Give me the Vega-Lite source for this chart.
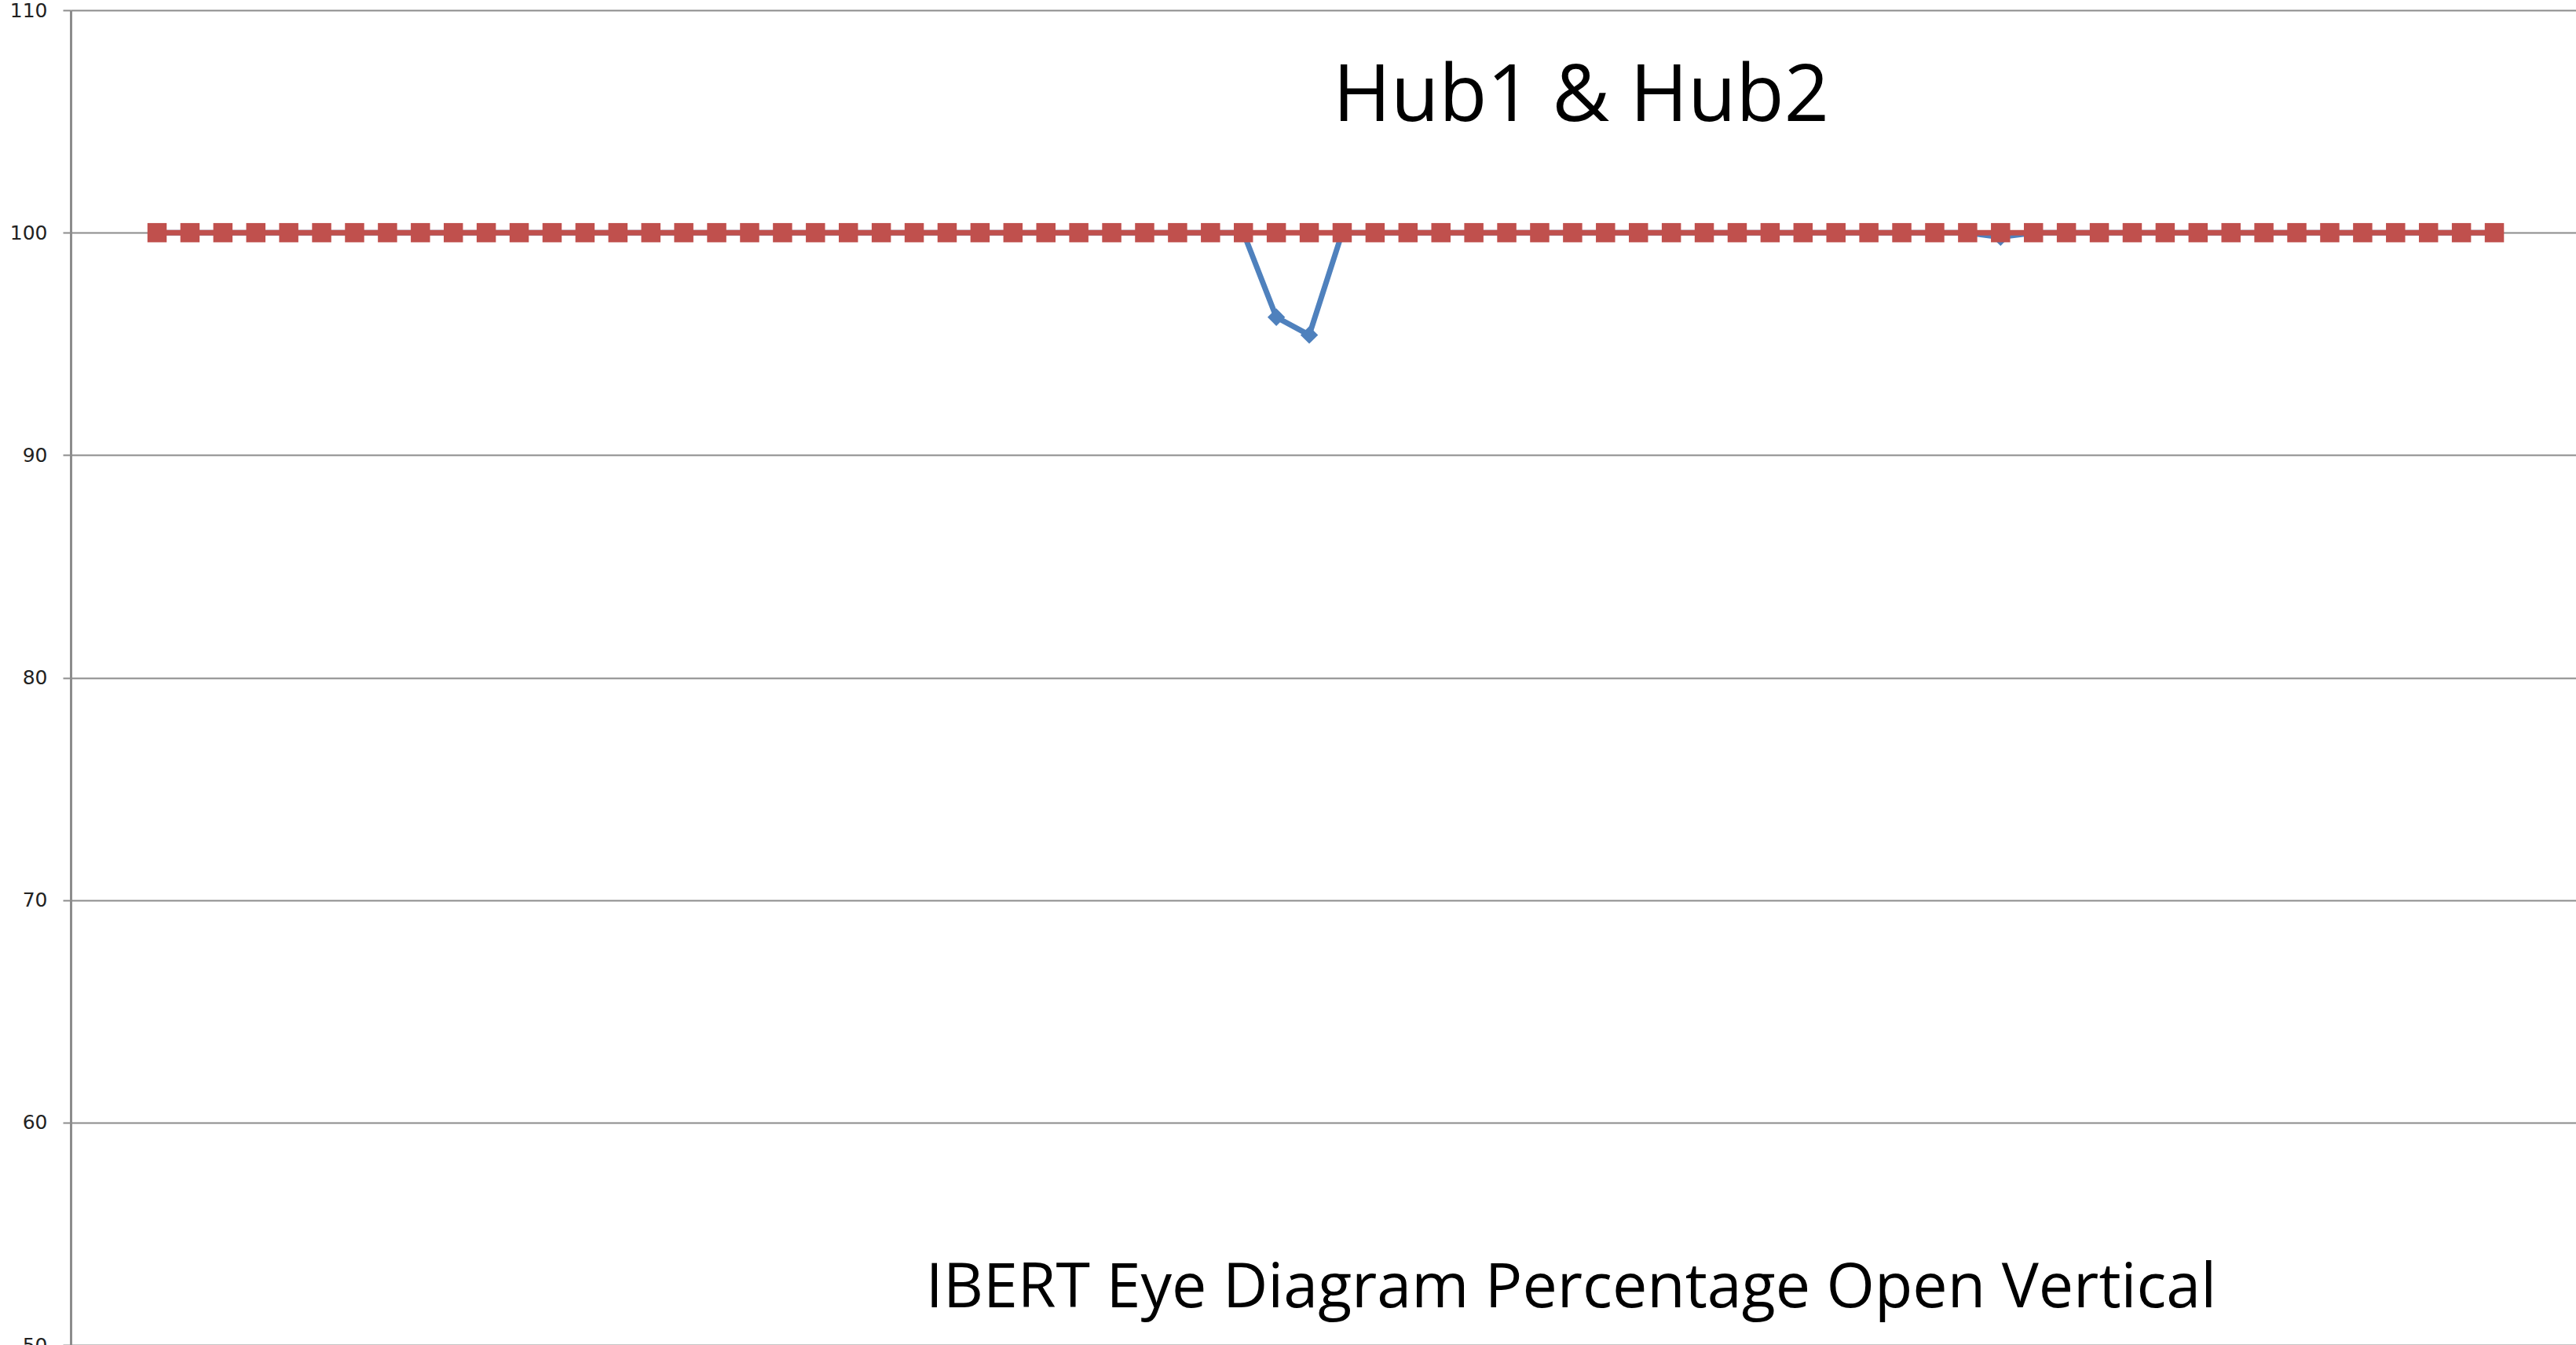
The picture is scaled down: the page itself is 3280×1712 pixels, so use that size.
{
  "$schema": "https://vega.github.io/schema/vega-lite/v6.json",
  "autosize": {"type": "none"},
  "padding": {"left": 90, "top": 13, "right": 0, "bottom": 0},
  "width": 3190,
  "height": 1699,
  "background": "white",
  "title": {"text": "Hub1 & Hub2", "anchor": "middle", "frame": "group", "offset": 0, "dx": 328, "dy": 253, "baseline": "alphabetic", "font": "Open Sans", "fontSize": 100, "fontWeight": "normal", "color": "#000000"},
  "config": {"view": {"stroke": null}},
  "data": {"values": [
    {"point":0,"series":"Hub1","value":100},{"point":1,"series":"Hub1","value":100},{"point":2,"series":"Hub1","value":100},{"point":3,"series":"Hub1","value":100},{"point":4,"series":"Hub1","value":100},{"point":5,"series":"Hub1","value":100},{"point":6,"series":"Hub1","value":100},{"point":7,"series":"Hub1","value":100},{"point":8,"series":"Hub1","value":100},{"point":9,"series":"Hub1","value":100},
    {"point":10,"series":"Hub1","value":100},{"point":11,"series":"Hub1","value":100},{"point":12,"series":"Hub1","value":100},{"point":13,"series":"Hub1","value":100},{"point":14,"series":"Hub1","value":100},{"point":15,"series":"Hub1","value":100},{"point":16,"series":"Hub1","value":100},{"point":17,"series":"Hub1","value":100},{"point":18,"series":"Hub1","value":100},{"point":19,"series":"Hub1","value":100},
    {"point":20,"series":"Hub1","value":100},{"point":21,"series":"Hub1","value":100},{"point":22,"series":"Hub1","value":100},{"point":23,"series":"Hub1","value":100},{"point":24,"series":"Hub1","value":100},{"point":25,"series":"Hub1","value":100},{"point":26,"series":"Hub1","value":100},{"point":27,"series":"Hub1","value":100},{"point":28,"series":"Hub1","value":100},{"point":29,"series":"Hub1","value":100},
    {"point":30,"series":"Hub1","value":100},{"point":31,"series":"Hub1","value":100},{"point":32,"series":"Hub1","value":100},{"point":33,"series":"Hub1","value":100},{"point":34,"series":"Hub1","value":96.2},{"point":35,"series":"Hub1","value":95.4},{"point":36,"series":"Hub1","value":100},{"point":37,"series":"Hub1","value":100},{"point":38,"series":"Hub1","value":100},{"point":39,"series":"Hub1","value":100},
    {"point":40,"series":"Hub1","value":100},{"point":41,"series":"Hub1","value":100},{"point":42,"series":"Hub1","value":100},{"point":43,"series":"Hub1","value":100},{"point":44,"series":"Hub1","value":100},{"point":45,"series":"Hub1","value":100},{"point":46,"series":"Hub1","value":100},{"point":47,"series":"Hub1","value":100},{"point":48,"series":"Hub1","value":100},{"point":49,"series":"Hub1","value":100},
    {"point":50,"series":"Hub1","value":100},{"point":51,"series":"Hub1","value":100},{"point":52,"series":"Hub1","value":100},{"point":53,"series":"Hub1","value":100},{"point":54,"series":"Hub1","value":100},{"point":55,"series":"Hub1","value":100},{"point":56,"series":"Hub1","value":99.8},{"point":57,"series":"Hub1","value":100},{"point":58,"series":"Hub1","value":100},{"point":59,"series":"Hub1","value":100},
    {"point":60,"series":"Hub1","value":100},{"point":61,"series":"Hub1","value":100},{"point":62,"series":"Hub1","value":100},{"point":63,"series":"Hub1","value":100},{"point":64,"series":"Hub1","value":100},{"point":65,"series":"Hub1","value":100},{"point":66,"series":"Hub1","value":100},{"point":67,"series":"Hub1","value":100},{"point":68,"series":"Hub1","value":100},{"point":69,"series":"Hub1","value":100},
    {"point":70,"series":"Hub1","value":100},{"point":71,"series":"Hub1","value":100},
    {"point":0,"series":"Hub2","value":100},{"point":1,"series":"Hub2","value":100},{"point":2,"series":"Hub2","value":100},{"point":3,"series":"Hub2","value":100},{"point":4,"series":"Hub2","value":100},{"point":5,"series":"Hub2","value":100},{"point":6,"series":"Hub2","value":100},{"point":7,"series":"Hub2","value":100},{"point":8,"series":"Hub2","value":100},{"point":9,"series":"Hub2","value":100},
    {"point":10,"series":"Hub2","value":100},{"point":11,"series":"Hub2","value":100},{"point":12,"series":"Hub2","value":100},{"point":13,"series":"Hub2","value":100},{"point":14,"series":"Hub2","value":100},{"point":15,"series":"Hub2","value":100},{"point":16,"series":"Hub2","value":100},{"point":17,"series":"Hub2","value":100},{"point":18,"series":"Hub2","value":100},{"point":19,"series":"Hub2","value":100},
    {"point":20,"series":"Hub2","value":100},{"point":21,"series":"Hub2","value":100},{"point":22,"series":"Hub2","value":100},{"point":23,"series":"Hub2","value":100},{"point":24,"series":"Hub2","value":100},{"point":25,"series":"Hub2","value":100},{"point":26,"series":"Hub2","value":100},{"point":27,"series":"Hub2","value":100},{"point":28,"series":"Hub2","value":100},{"point":29,"series":"Hub2","value":100},
    {"point":30,"series":"Hub2","value":100},{"point":31,"series":"Hub2","value":100},{"point":32,"series":"Hub2","value":100},{"point":33,"series":"Hub2","value":100},{"point":34,"series":"Hub2","value":100},{"point":35,"series":"Hub2","value":100},{"point":36,"series":"Hub2","value":100},{"point":37,"series":"Hub2","value":100},{"point":38,"series":"Hub2","value":100},{"point":39,"series":"Hub2","value":100},
    {"point":40,"series":"Hub2","value":100},{"point":41,"series":"Hub2","value":100},{"point":42,"series":"Hub2","value":100},{"point":43,"series":"Hub2","value":100},{"point":44,"series":"Hub2","value":100},{"point":45,"series":"Hub2","value":100},{"point":46,"series":"Hub2","value":100},{"point":47,"series":"Hub2","value":100},{"point":48,"series":"Hub2","value":100},{"point":49,"series":"Hub2","value":100},
    {"point":50,"series":"Hub2","value":100},{"point":51,"series":"Hub2","value":100},{"point":52,"series":"Hub2","value":100},{"point":53,"series":"Hub2","value":100},{"point":54,"series":"Hub2","value":100},{"point":55,"series":"Hub2","value":100},{"point":56,"series":"Hub2","value":100},{"point":57,"series":"Hub2","value":100},{"point":58,"series":"Hub2","value":100},{"point":59,"series":"Hub2","value":100},
    {"point":60,"series":"Hub2","value":100},{"point":61,"series":"Hub2","value":100},{"point":62,"series":"Hub2","value":100},{"point":63,"series":"Hub2","value":100},{"point":64,"series":"Hub2","value":100},{"point":65,"series":"Hub2","value":100},{"point":66,"series":"Hub2","value":100},{"point":67,"series":"Hub2","value":100},{"point":68,"series":"Hub2","value":100},{"point":69,"series":"Hub2","value":100},
    {"point":70,"series":"Hub2","value":100},{"point":71,"series":"Hub2","value":100}
  ]},
  "encoding": {
    "x": {"field": "point", "type": "quantitative",
      "scale": {"domain": [-2.624, 73.48], "nice": false, "zero": false},
      "axis": {"orient": "bottom", "domain": false, "ticks": false, "labels": false, "grid": false,
        "title": "IBERT Eye Diagram Percentage Open Vertical",
        "titleX": 1910, "titleY": -49, "titleAlign": "center", "titleBaseline": "alphabetic", "titleAngle": 0,
        "titleFont": "Open Sans", "titleFontSize": 79, "titleFontWeight": "normal", "titleColor": "#000000"}},
    "y": {"field": "value", "type": "quantitative",
      "scale": {"domain": [50, 110], "nice": false, "zero": false},
      "axis": {"values": [50, 60, 70, 80, 90, 100, 110], "title": null,
        "domain": true, "domainColor": "#8c8c8c", "domainWidth": 3,
        "ticks": true, "tickSize": 10, "tickColor": "#8c8c8c", "tickWidth": 2,
        "grid": true, "gridColor": "#8c8c8c", "gridWidth": 2,
        "labelFont": "DejaVu Sans", "labelFontSize": 25, "labelColor": "#222222", "labelPadding": 20,
        "labelBaseline": "middle", "labelOverlap": false, "labelFlush": false, "labelBound": false}}
  },
  "layer": [
    {"transform": [{"filter": "datum.series === 'Hub1'"}], "mark": {"type": "line", "color": "#4F81BD", "strokeWidth": 7}, "encoding": {}},
    {"transform": [{"filter": "datum.series === 'Hub1'"}], "mark": {"type": "point", "shape": "diamond", "filled": true, "size": 500, "color": "#4F81BD", "opacity": 1}, "encoding": {}},
    {"transform": [{"filter": "datum.series === 'Hub2'"}], "mark": {"type": "line", "color": "#C0504D", "strokeWidth": 7}, "encoding": {}},
    {"transform": [{"filter": "datum.series === 'Hub2'"}], "mark": {"type": "point", "shape": "square", "filled": true, "size": 600, "color": "#C0504D", "opacity": 1}, "encoding": {}}
  ]
}
